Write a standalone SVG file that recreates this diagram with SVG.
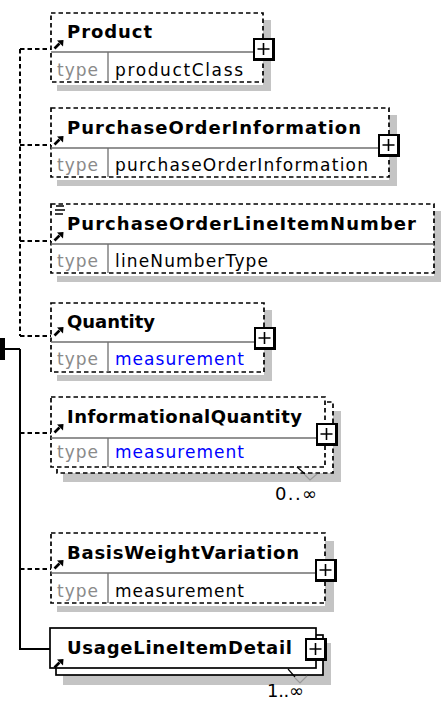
<svg xmlns="http://www.w3.org/2000/svg" xmlns:xlink="http://www.w3.org/1999/xlink" width="442" height="702" viewBox="0 0 442 702">
<style>
.sh{fill:#c4c4c4}
.wf{fill:#fff}
.db{fill:none;stroke:#000;stroke-width:1.7;stroke-dasharray:4.5 3}
.sb{fill:#fff;stroke:#000;stroke-width:1.7}
.dv{stroke:#707070;stroke-width:1.3}
.nm{font-family:"DejaVu Sans",Verdana,sans-serif;font-weight:bold;font-size:18px;fill:#000}
.tl{font-family:"DejaVu Sans",Verdana,sans-serif;font-size:17px;fill:#8a8a8a}
.tv{font-family:"DejaVu Sans",Verdana,sans-serif;font-size:17px;fill:#000}
.bl{fill:#0000ff}
.card{font-family:"DejaVu Sans",Verdana,sans-serif;font-size:18px;fill:#000}
.cd{fill:none;stroke:#000;stroke-width:2;stroke-dasharray:4.5 3}
.cs{fill:none;stroke:#000;stroke-width:2}
</style>
<defs>
<g id="plus"><rect width="22" height="23" fill="#000"/><rect x="2" y="2" width="17" height="18" fill="#fff"/><path d="M4.5 11H16.5M10.5 5V17" stroke="#000" stroke-width="1.6"/></g>
<g id="arr"><path d="M0.5 8.5L5.5 3.5" stroke="#000" stroke-width="2.6"/><polygon points="9.5,0 3,0.5 9,6.5" fill="#000"/></g>
</defs>

<g id="connectors">
<path class="cd" d="M20 49V336"/>
<path class="cd" d="M20 49H51M20 145H51M20 241H51M20 336H51M20 433H51M20 569H51"/>
<path class="cs" d="M20 349V649H50M5 349H20"/>
<rect x="0" y="338" width="5" height="22" fill="#000"/>
</g>

<g id="product">
<rect class="sh" x="57" y="20" width="214" height="71"/>
<rect class="wf" x="51" y="13" width="212" height="72"/>
<rect class="db" x="51" y="13" width="212" height="69"/>
<path class="dv" d="M51 52H263M108 52V82"/>
<text class="nm" x="67" y="38" textLength="85" lengthAdjust="spacing">Product</text>
<text class="tl" x="57" y="76" textLength="41" lengthAdjust="spacing">type</text>
<text class="tv" x="115" y="76" textLength="128" lengthAdjust="spacing">productClass</text>
<use xlink:href="#arr" x="54" y="40"/>
<use xlink:href="#plus" x="253" y="38"/>
</g>

<g id="purchaseOrderInformation">
<rect class="sh" x="57" y="115" width="340" height="71"/>
<rect class="wf" x="51" y="108" width="338" height="72"/>
<rect class="db" x="51" y="108" width="338" height="69"/>
<path class="dv" d="M51 148H389M108 148V177"/>
<text class="nm" x="67" y="134" textLength="294" lengthAdjust="spacing">PurchaseOrderInformation</text>
<text class="tl" x="57" y="171" textLength="41" lengthAdjust="spacing">type</text>
<text class="tv" x="115" y="171" textLength="253" lengthAdjust="spacing">purchaseOrderInformation</text>
<use xlink:href="#arr" x="54" y="136"/>
<use xlink:href="#plus" x="378" y="134"/>
</g>

<g id="purchaseOrderLineItemNumber">
<rect class="sh" x="57" y="211" width="384" height="71"/>
<rect class="wf" x="51" y="204" width="383" height="72"/>
<rect class="db" x="51" y="204" width="383" height="69"/>
<path class="dv" d="M51 244H434M108 244V273"/>
<text class="nm" x="67" y="230" textLength="349" lengthAdjust="spacing">PurchaseOrderLineItemNumber</text>
<text class="tl" x="57" y="267" textLength="41" lengthAdjust="spacing">type</text>
<text class="tv" x="115" y="267" textLength="153" lengthAdjust="spacing">lineNumberType</text>
<path d="M56 206H64M55 210H65M55 214H63" stroke="#000" stroke-width="1.3"/>
<use xlink:href="#arr" x="54" y="232"/>
</g>

<g id="quantity">
<rect class="sh" x="57" y="310" width="215" height="71"/>
<rect class="wf" x="51" y="303" width="213" height="72"/>
<rect class="db" x="51" y="303" width="213" height="69"/>
<path class="dv" d="M51 342H264M108 342V372"/>
<text class="nm" x="67" y="328" textLength="88" lengthAdjust="spacing">Quantity</text>
<text class="tl" x="57" y="365" textLength="41" lengthAdjust="spacing">type</text>
<text class="tv bl" x="115" y="365" textLength="129" lengthAdjust="spacing">measurement</text>
<use xlink:href="#arr" x="54" y="327"/>
<use xlink:href="#plus" x="254" y="327"/>
</g>

<g id="informationalQuantity">
<rect class="sh" x="63" y="411" width="278" height="71"/>
<rect class="wf" x="57" y="402" width="276" height="71"/>
<rect class="db" x="57" y="402" width="276" height="71"/>
<rect class="wf" x="51" y="397" width="274" height="70"/>
<rect class="db" x="51" y="397" width="274" height="70"/>
<path class="dv" d="M51 438H325M108 438V467"/>
<text class="nm" x="67" y="423" textLength="235" lengthAdjust="spacing">InformationalQuantity</text>
<text class="tl" x="57" y="458" textLength="41" lengthAdjust="spacing">type</text>
<text class="tv bl" x="115" y="458" textLength="129" lengthAdjust="spacing">measurement</text>
<use xlink:href="#arr" x="54" y="424"/>
<use xlink:href="#plus" x="316" y="423"/>
<path d="M297 467L305 474" stroke="#000" stroke-width="1.2" fill="none"/>
<polyline points="305,475 310,480 317,474" stroke="#999" stroke-width="1.2" fill="none"/>
<text class="card" x="275" y="500" textLength="42" lengthAdjust="spacing">0..∞</text>
</g>

<g id="basisWeightVariation">
<rect class="sh" x="57" y="541" width="277" height="71"/>
<rect class="wf" x="51" y="533" width="274" height="73"/>
<rect class="db" x="51" y="533" width="274" height="70"/>
<path class="dv" d="M51 573H325M108 573V603"/>
<text class="nm" x="67" y="559" textLength="232" lengthAdjust="spacing">BasisWeightVariation</text>
<text class="tl" x="57" y="597" textLength="41" lengthAdjust="spacing">type</text>
<text class="tv" x="115" y="597" textLength="129" lengthAdjust="spacing">measurement</text>
<use xlink:href="#arr" x="54" y="560"/>
<use xlink:href="#plus" x="315" y="559"/>
</g>

<g id="usageLineItemDetail">
<rect class="sh" x="63" y="643" width="268" height="42"/>
<rect class="sb" x="56" y="635" width="267" height="40"/>
<rect class="sb" x="50" y="628" width="266" height="40"/>
<text class="nm" x="67" y="654" textLength="225" lengthAdjust="spacing">UsageLineItemDetail</text>
<use xlink:href="#arr" x="54" y="659"/>
<use xlink:href="#plus" x="305" y="638"/>
<path d="M288 669L295 677" stroke="#000" stroke-width="1.2" fill="none"/>
<polyline points="295,678 300,683 307,676" stroke="#999" stroke-width="1.2" fill="none"/>
<text class="card" x="267" y="697" font-size="17" textLength="37" lengthAdjust="spacing">1..∞</text>
</g>
</svg>
